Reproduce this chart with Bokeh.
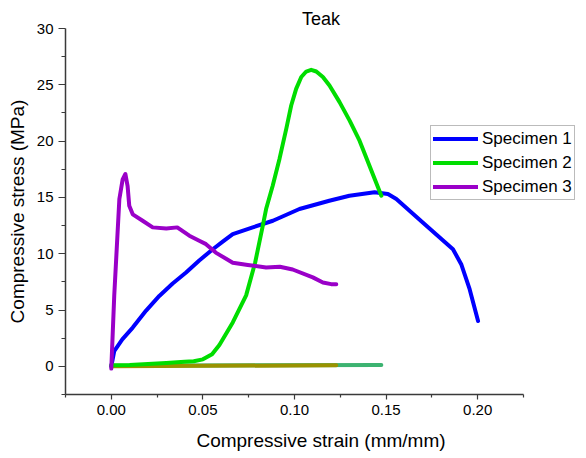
from bokeh.plotting import figure
from bokeh.models import Range1d, Legend, LegendItem, FixedTicker, Title
from bokeh.embed import file_html
from bokeh.resources import INLINE

# Specimen 1 (blue)
s1_strain = [0.0, 0.0016, 0.0060, 0.0117, 0.0190, 0.0262, 0.0335, 0.0408, 0.0480, 0.0554,
             0.0610, 0.0663, 0.0772, 0.0882, 0.1027, 0.119, 0.130, 0.1437, 0.151, 0.1556,
             0.170, 0.1865, 0.191, 0.1956, 0.2002]
s1_stress = [0.0, 1.36, 2.4, 3.44, 4.95, 6.25, 7.35, 8.33, 9.4, 10.4,
             11.1, 11.74, 12.34, 12.93, 13.97, 14.7, 15.15, 15.45, 15.3, 14.86,
             12.78, 10.4, 9.07, 6.85, 4.03]

# Specimen 2 (green)
s2_strain = [0.0, 0.010, 0.020, 0.030, 0.040, 0.045, 0.050, 0.055, 0.059, 0.0663, 0.0736,
             0.0785, 0.0827, 0.0845, 0.0881, 0.0918, 0.0955, 0.0982, 0.1009, 0.1037, 0.1064,
             0.1091, 0.1119, 0.1155, 0.1191, 0.1246, 0.1301, 0.1355, 0.1373, 0.1474]
s2_stress = [0.1, 0.12, 0.2, 0.3, 0.4, 0.45, 0.62, 1.07, 1.9, 3.9, 6.3,
             9.2, 12.5, 13.97, 16.04, 18.42, 21.09, 23.16, 24.64, 25.69, 26.18,
             26.33, 26.18, 25.69, 24.94, 23.46, 21.82, 20.04, 19.3, 15.15]

# Specimen 3 (purple)
s3_strain = [0.0, 0.0016, 0.0044, 0.0062, 0.0077, 0.0089, 0.0098, 0.0117, 0.0171, 0.0226,
             0.030, 0.036, 0.0426, 0.048, 0.0517, 0.057, 0.0663, 0.0745, 0.0845, 0.092,
             0.099, 0.110, 0.1155, 0.120, 0.1228]
s3_stress = [-0.2, 6.26, 14.86, 16.6, 17.08, 16.0, 14.26, 13.5, 12.93, 12.34,
             12.25, 12.34, 11.6, 11.15, 10.85, 10.1, 9.2, 9.0, 8.78, 8.85,
             8.6, 7.9, 7.45, 7.3, 7.3]

# Unloading return lines near zero stress
r2_strain = [0.0, 0.1474]
r2_stress = [0.05, 0.12]
r3_strain = [0.0, 0.1228]
r3_stress = [0.0, 0.1]

x_ticks = [0.0, 0.05, 0.10, 0.15, 0.20]
x_minor = [-0.025, 0.025, 0.075, 0.125, 0.175, 0.225]
y_ticks = [0, 5, 10, 15, 20, 25, 30]
y_minor = [-2.5, 2.5, 7.5, 12.5, 17.5, 22.5, 27.5]
x_axis_bounds = (-0.025, 0.225)

FONT = "Liberation Sans"
AX = "#3a3a3a"

W, H = 576, 454
LEFT, TOP, BOTTOM = 65, 28, 60
px_per_unit = 458 / 0.25
x_end = -0.025 + (W - LEFT) / px_per_unit

p = figure(width=W, height=H, output_backend="svg", toolbar_location=None,
           x_range=Range1d(-0.025, x_end), y_range=Range1d(-2.5, 30),
           min_border_left=LEFT, min_border_right=0, min_border_bottom=BOTTOM,
           min_border_top=TOP)
p.title = Title(text="Teak", align="center", text_font=FONT, text_font_size="18px",
                text_font_style="normal", text_color="#000000", standoff=0, offset=-28)
p.grid.visible = False
p.outline_line_color = None
p.background_fill_color = "white"
p.border_fill_color = "white"

for ax in (p.xaxis[0], p.yaxis[0]):
    ax.axis_line_color = AX
    ax.axis_line_width = 1.5
    ax.major_tick_line_color = AX
    ax.minor_tick_line_color = AX
    ax.major_tick_line_width = 1.2
    ax.minor_tick_line_width = 1.2
    ax.major_tick_in = 0
    ax.minor_tick_in = 0
    ax.major_label_text_font = FONT
    ax.major_label_text_font_size = "15px"
    ax.major_label_text_color = "#000000"
    ax.axis_label_text_font = FONT
    ax.axis_label_text_font_size = "19px"
    ax.axis_label_text_font_style = "normal"
    ax.axis_label_text_color = "#000000"

p.xaxis[0].major_tick_out = 5
p.xaxis[0].minor_tick_out = 3
p.yaxis[0].major_tick_out = 7
p.yaxis[0].minor_tick_out = 4
p.xaxis[0].bounds = x_axis_bounds
p.xaxis[0].ticker = FixedTicker(ticks=x_ticks, minor_ticks=x_minor)
p.yaxis[0].ticker = FixedTicker(ticks=y_ticks, minor_ticks=y_minor)
p.xaxis[0].major_label_overrides = {v: f"{v:.2f}" for v in x_ticks}
p.xaxis[0].axis_label = "Compressive strain (mm/mm)"
p.yaxis[0].axis_label = "Compressive stress (MPa)"
p.xaxis[0].major_label_standoff = 5
p.yaxis[0].major_label_standoff = 5
p.xaxis[0].axis_label_standoff = 12
p.yaxis[0].axis_label_standoff = 6

lw = 4
r_ret2 = p.line(r2_strain, r2_stress, line_color="#3cb371", line_width=lw, line_cap="round")
r_ret3 = p.line(r3_strain, r3_stress, line_color="#9a9200", line_width=lw, line_cap="round")
r1 = p.line(s1_strain, s1_stress, line_color="#0000ff", line_width=lw, line_cap="round", line_join="round")
r2 = p.line(s2_strain, s2_stress, line_color="#00dd00", line_width=lw, line_cap="round", line_join="round")
r3 = p.line(s3_strain, s3_stress, line_color="#9a00c8", line_width=lw, line_cap="round", line_join="round")

legend = Legend(items=[LegendItem(label="Specimen 1", renderers=[r1]),
                       LegendItem(label="Specimen 2", renderers=[r2]),
                       LegendItem(label="Specimen 3", renderers=[r3])],
                location=(365, 194), label_text_font=FONT, label_text_font_size="17px",
                label_text_color="#000000", border_line_color="#777777", border_line_width=1,
                glyph_width=45, glyph_height=21, label_height=21, spacing=3, padding=2,
                margin=0, label_standoff=4, background_fill_alpha=1)
p.add_layout(legend, "center")

open("out.html", "w").write(file_html(p, INLINE))
